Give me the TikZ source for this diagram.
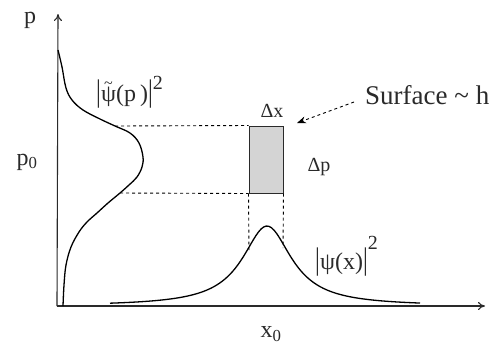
\documentclass[tikz,border=0pt]{standalone}
\usepackage{fontspec}
\setmainfont{Liberation Serif}
\usepackage{tikz}
\usetikzlibrary{arrows.meta, positioning}
\definecolor{cellgray}{HTML}{D4D4D4}
\definecolor{inkgray}{HTML}{2A2A2A}
\newcommand{\tpsi}{{\ooalign{ψ\cr\hidewidth\raisebox{13pt}{\fontsize{16}{18}\selectfont\textasciitilde}\hidewidth\cr}}}

\begin{document}
\begin{tikzpicture}[
  x=1pt, y=-1pt,
  lbl/.style={inner sep=0pt, font=\fontsize{24}{28}\selectfont, text=inkgray},
  axis/.style={-{To[length=7pt, width=8pt]}, line width=1.1pt, inkgray},
  curve/.style={line width=1.3pt, black},
  guide/.style={line width=0.9pt, dash pattern=on 3pt off 3pt, black},
  cell/.style={rectangle, draw=inkgray, line width=1pt, fill=cellgray,
               minimum width=34pt, minimum height=67pt, inner sep=0pt},
  pointer/.style={-{Stealth[length=9pt, width=7pt]}, dashed, line width=0.9pt, black},
]
  \useasboundingbox (0,0) rectangle (489,349);
  % Axes
  \coordinate (orig) at (57,306);
  \coordinate (ptip) at (58,14);
  \coordinate (xtip) at (485,306);
  \draw[axis] (orig) -- (ptip);
  \draw[axis] (orig) -- (xtip);
  \node[lbl] (plab) at (30,20) {p};
  \node[lbl] (xlab) at (496,322) {x};
  \node[lbl] (p0) at (27,162) {p\textsubscript{0}};
  \node[lbl] (x0) at (271,334) {x\textsubscript{0}};

  % Momentum distribution
  \draw[curve] plot[smooth, tension=0.6] coordinates {
    (58,50) (62,67) (66,88) (72,100) (83,110) (100,119) (115,126)
    (130,133) (139,143) (143,157) (142,167) (137,177) (129,185)
    (120,193) (108,203) (97,213) (87,222) (79,232) (71,247)
    (66,265) (64,285) (63,306)};
  % Position distribution
  \draw[curve] plot[domain=110:420, samples=120]
    (\x, {306 - 80/(1+((\x-267)/30)^2)});

  % Uncertainty cell
  \node[cell] (cell) at (266,159.5) {};
  \coordinate (ptop) at (115,126);
  \coordinate (pbot) at (120,193);
  \coordinate (xleft) at (249,250);
  \coordinate (xright) at (283,248);
  \draw[guide] (ptop) -- (cell.north west);
  \draw[guide] (pbot) -- (cell.south west);
  \draw[guide] (cell.south west) -- (xleft);
  \draw[guide] (cell.south east) -- (xright);

  % Labels
  \node[lbl, font=\fontsize{20}{24}\selectfont] (dx) at (272,111) {Δx};
  \node[lbl, font=\fontsize{20}{24}\selectfont] (dp) at (319,167) {Δp};
  \node[lbl, anchor=west, font=\fontsize{27}{32}\selectfont] (surf) at (365,95)
    {Surface \textasciitilde{} h};
  \coordinate (sto) at (297,123);
  \draw[pointer] ([xshift=-11pt, yshift=-7pt]surf.west) -- (sto);
  \node[lbl, anchor=west] (psip) at (96,92)
    {\scalebox{1}[1.3]{|}\tpsi(p\,)\scalebox{1}[1.3]{|}\raisebox{12pt}{\fontsize{20}{24}\selectfont 2}};
  \node[lbl, anchor=west] (psix) at (315,256)
    {\scalebox{1}[1.3]{|}ψ(x)\scalebox{1}[1.3]{|}\raisebox{20pt}{\fontsize{20}{24}\selectfont 2}};
\end{tikzpicture}
\end{document}
